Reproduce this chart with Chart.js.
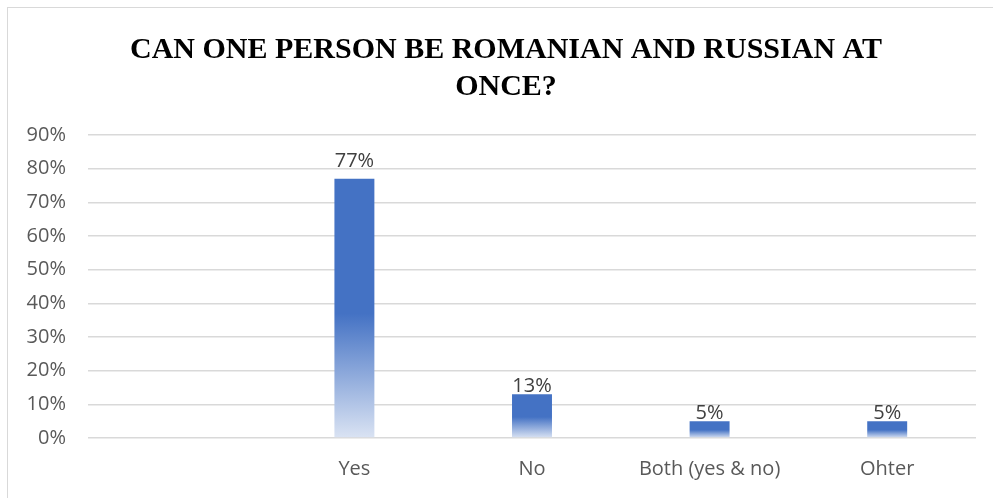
<!DOCTYPE html>
<html>
<head>
<meta charset="utf-8">
<script src="https://cdn.jsdelivr.net/npm/chart.js@4.4.1/dist/chart.umd.min.js"></script>
<style>
  html, body { margin: 0; padding: 0; background: #fff; }
  #wrap { position: relative; width: 993px; height: 498px; overflow: hidden; }
  #frame { position: absolute; left: 7px; top: 7px; width: 1100px; height: 600px; border: 1px solid #d9d9d9; }
  #chart { position: absolute; left: 0; top: 0; }
</style>
</head>
<body>
<div id="wrap">
  <div id="frame"></div>
  <canvas id="chart" width="993" height="498"></canvas>
</div>
<script>
// Respuestas de la encuesta (fracciones)
const categorias = ['', 'Yes', 'No', 'Both (yes & no)', 'Ohter'];
const porcentajes = [null, 0.77, 0.13, 0.05, 0.05];
const ticksY = [0, 0.1, 0.2, 0.3, 0.4, 0.5, 0.6, 0.7, 0.8, 0.9];
const tituloLineas = ['CAN ONE PERSON BE ROMANIAN AND RUSSIAN AT', 'ONCE?'];

const fuenteEjes = "'Open Sans', Lato, sans-serif";
// separación extra de cada etiqueta sobre su barra (px)
const separacionEtiqueta = [0, 11, 1, 1, 1];

// Degradado de cada barra: azul sólido arriba, se aclara hacia la base
function degradadoBarra(ctx) {
  const chart = ctx.chart;
  if (!chart.chartArea || ctx.raw == null) return '#4472C4';
  const y = chart.scales.y;
  const arriba = y.getPixelForValue(ctx.raw);
  const base = y.getPixelForValue(0);
  if (base - arriba < 1) return '#4472C4';
  const g = chart.ctx.createLinearGradient(0, arriba, 0, base);
  g.addColorStop(0, '#4472C4');
  g.addColorStop(0.52, '#4472C4');
  g.addColorStop(1, '#dae3f3');
  return g;
}

// Título centrado sobre el marco completo (no sobre el área del gráfico)
const tituloMarco = {
  id: 'tituloMarco',
  afterDraw(chart) {
    const ctx = chart.ctx;
    ctx.save();
    ctx.font = "bold 30px 'Liberation Serif', 'Times New Roman', serif";
    ctx.fillStyle = '#000';
    ctx.textAlign = 'center';
    ctx.textBaseline = 'middle';
    tituloLineas.forEach((linea, i) => ctx.fillText(linea, 506, 50 + i * 37));
    ctx.restore();
  }
};

// Etiquetas de valor encima de las barras
const etiquetasValor = {
  id: 'etiquetasValor',
  afterDatasetsDraw(chart) {
    const ctx = chart.ctx;
    const meta = chart.getDatasetMeta(0);
    ctx.save();
    ctx.font = '20px ' + fuenteEjes;
    ctx.fillStyle = '#404040';
    ctx.textAlign = 'center';
    ctx.textBaseline = 'alphabetic';
    meta.data.forEach((barra, i) => {
      const v = porcentajes[i];
      if (v == null) return;
      ctx.fillText(Math.round(v * 100) + '%', barra.x, barra.y - 1 - separacionEtiqueta[i]);
    });
    ctx.restore();
  }
};

new Chart(document.getElementById('chart'), {
  type: 'bar',
  data: {
    labels: categorias,
    datasets: [{
      data: porcentajes,
      backgroundColor: degradadoBarra,
      barPercentage: 0.45,
      categoryPercentage: 0.5
    }]
  },
  options: {
    responsive: false,
    animation: false,
    layout: { padding: { left: 10, right: 17, top: 135, bottom: 17 } },
    plugins: {
      legend: { display: false },
      tooltip: { enabled: false },
      title: { display: false }
    },
    scales: {
      x: {
        afterFit(eje) { eje.height = 43; },
        grid: { display: false, drawTicks: false },
        border: { display: false },
        ticks: { color: '#595959', font: { family: fuenteEjes, size: 20 }, padding: 19, maxRotation: 0 }
      },
      y: {
        min: 0,
        max: 0.9,
        afterBuildTicks(eje) { eje.ticks = ticksY.map(v => ({ value: v })); },
        afterFit(eje) { eje.width = 78; },
        grid: { color: '#d9d9d9', lineWidth: 1.5, drawTicks: false },
        border: { display: false },
        ticks: {
          color: '#595959',
          font: { family: fuenteEjes, size: 20 },
          padding: 22,
          callback: v => Math.round(v * 100) + '%'
        }
      }
    }
  },
  plugins: [etiquetasValor, tituloMarco]
});
</script>
</body>
</html>
